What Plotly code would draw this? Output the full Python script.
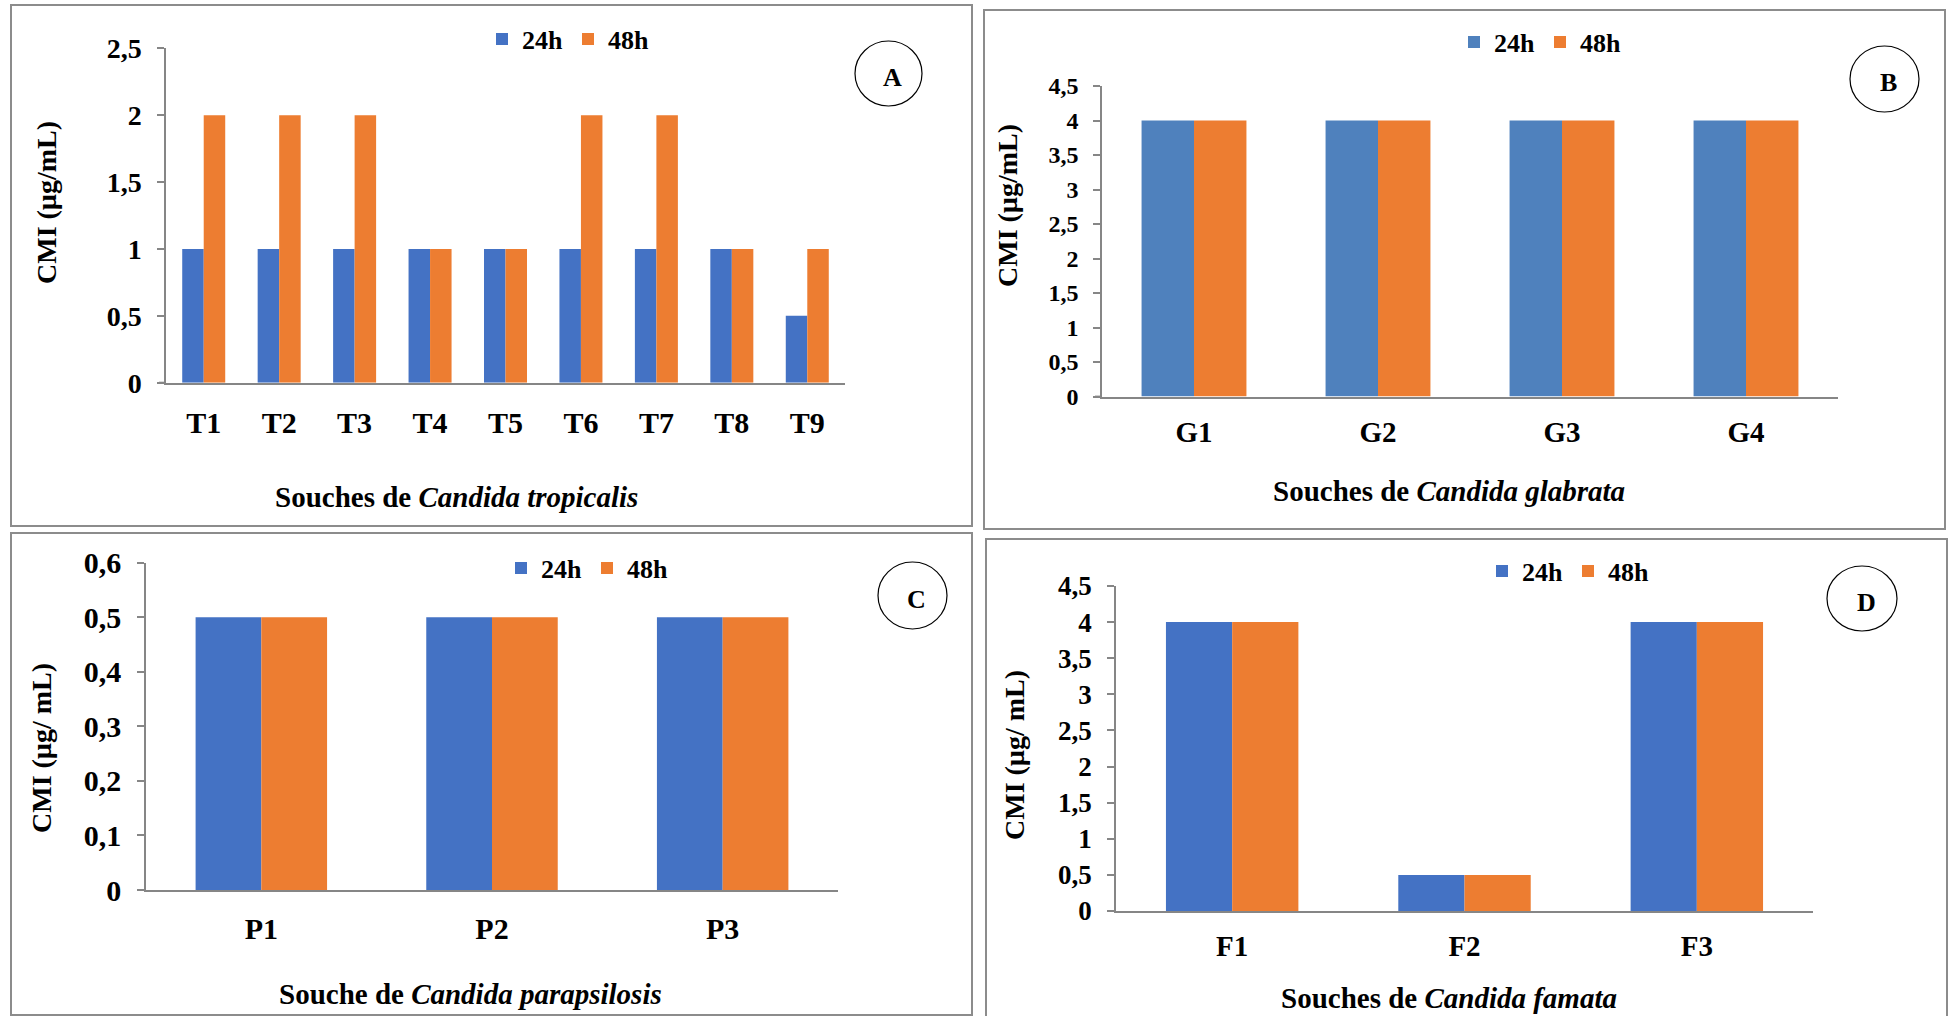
import plotly.graph_objects as go

W, H = 1948, 1016

# ---------------- data ----------------
series_names = ["24h", "48h"]

cat_A = ["T1", "T2", "T3", "T4", "T5", "T6", "T7", "T8", "T9"]
A_24 = [1, 1, 1, 1, 1, 1, 1, 1, 0.5]
A_48 = [2, 2, 2, 1, 1, 2, 2, 1, 1]

cat_B = ["G1", "G2", "G3", "G4"]
B_24 = [4, 4, 4, 4]
B_48 = [4, 4, 4, 4]

cat_C = ["P1", "P2", "P3"]
C_24 = [0.5, 0.5, 0.5]
C_48 = [0.5, 0.5, 0.5]

cat_D = ["F1", "F2", "F3"]
D_24 = [4, 0.5, 4]
D_48 = [4, 0.5, 4]

ytick_A = [0, 0.5, 1, 1.5, 2, 2.5]
ytick_A_text = ["0", "0,5", "1", "1,5", "2", "2,5"]
ytick_B = [0, 0.5, 1, 1.5, 2, 2.5, 3, 3.5, 4, 4.5]
ytick_B_text = ["0", "0,5", "1", "1,5", "2", "2,5", "3", "3,5", "4", "4,5"]
ytick_C = [0, 0.1, 0.2, 0.3, 0.4, 0.5, 0.6]
ytick_C_text = ["0", "0,1", "0,2", "0,3", "0,4", "0,5", "0,6"]
ytick_D = ytick_B
ytick_D_text = ytick_B_text

panel_letters = ["A", "B", "C", "D"]
x_titles = [
    "<b>Souches de <i>Candida tropicalis</i></b>",
    "<b>Souches de <i>Candida glabrata</i></b>",
    "<b>Souche de <i>Candida parapsilosis</i></b>",
    "<b>Souches de <i>Candida famata</i></b>",
]
y_titles = ["<b>CMI (µg/mL)</b>", "<b>CMI (µg/mL)</b>", "<b>CMI (µg/ mL)</b>", "<b>CMI (µg/ mL)</b>"]

# ---------------- styles ----------------
FONT = "Liberation Serif"
BLUE = "#4472C4"
BLUE_B = "#4F81BD"
ORANGE = "#ED7D31"
AXIS = "#868686"
BORDER = "#8C8C8C"


def px(x):
    return x / W


def py(y):
    return 1 - y / H


panels = [
    dict(cats=cat_A, s24=A_24, s48=A_48, blue=BLUE, box=(166, 845, 48.3, 382.7), ymax=2.5,
         tv=ytick_A, tt=ytick_A_text, yfs=28, xfs=30, xstand=12, leg=(482, 39),
         circ=(855, 922, 41, 106), yt=(47, 203), xt=(456, 497)),
    dict(cats=cat_B, s24=B_24, s48=B_48, blue=BLUE_B, box=(1102, 1838, 86, 396.6), ymax=4.5,
         tv=ytick_B, tt=ytick_B_text, yfs=24, xfs=29, xstand=9, leg=(1454, 42),
         circ=(1850, 1919, 46, 112), yt=(1008, 206), xt=(1449, 491)),
    dict(cats=cat_C, s24=C_24, s48=C_48, blue=BLUE, box=(146, 838, 562.7, 890), ymax=0.6,
         tv=ytick_C, tt=ytick_C_text, yfs=30, xfs=30, xstand=11, leg=(501, 568),
         circ=(878, 947, 562, 629), yt=(41, 748), xt=(470, 994)),
    dict(cats=cat_D, s24=D_24, s48=D_48, blue=BLUE, box=(1116, 1813, 586, 911), ymax=4.5,
         tv=ytick_D, tt=ytick_D_text, yfs=27, xfs=29, xstand=8, leg=(1482, 571),
         circ=(1827, 1897, 566, 631), yt=(1014, 755), xt=(1449, 998)),
]

fig = go.Figure()
layout = dict(
    width=W, height=H, margin=dict(l=0, r=0, t=0, b=0, autoexpand=False),
    template="none",
    paper_bgcolor="white", plot_bgcolor="white",
    barmode="group", bargap=0.43, bargroupgap=0,
    showlegend=True,
)
shapes = []
annotations = []

for i, p in enumerate(panels):
    n = "" if i == 0 else str(i + 1)
    xa, ya = "x" + n, "y" + n
    lg = "legend" + n
    fig.add_trace(go.Bar(x=p["cats"], y=p["s24"], name=series_names[0], marker_color=p["blue"],
                         marker_line_width=0, xaxis=xa, yaxis=ya, legend=lg))
    fig.add_trace(go.Bar(x=p["cats"], y=p["s48"], name=series_names[1], marker_color=ORANGE,
                         marker_line_width=0, xaxis=xa, yaxis=ya, legend=lg))
    l, r, t, b = p["box"]
    layout["xaxis" + n] = dict(
        domain=[px(l), px(r)], anchor=ya, showline=True, linecolor=AXIS, linewidth=2,
        ticks="", showgrid=False, zeroline=False, ticklabelstandoff=p["xstand"], automargin=False,
        tickfont=dict(family=FONT, size=p["xfs"], color="black", weight="bold"),
    )
    layout["yaxis" + n] = dict(
        domain=[py(b), py(t)], anchor=xa, range=[0, p["ymax"]], showline=True, linecolor=AXIS,
        linewidth=1.5, ticks="outside", ticklen=7, tickwidth=1.5, tickcolor=AXIS,
        tickvals=p["tv"], ticktext=p["tt"], showgrid=False, zeroline=False,
        ticklabelstandoff=10, automargin=False,
        tickfont=dict(family=FONT, size=p["yfs"], color="black", weight="bold"),
    )
    layout[lg] = dict(
        orientation="h", x=px(p["leg"][0]), y=py(p["leg"][1]), xanchor="left", yanchor="middle",
        bgcolor="rgba(0,0,0,0)", borderwidth=0,
        font=dict(family=FONT, size=26, color="black", weight="bold"),
    )
    # small extension of the category axis line to the left of the value axis
    shapes.append(dict(type="line", xref="paper", yref="paper", x0=px(l - 7), x1=px(l),
                       y0=py(b), y1=py(b), line=dict(color=AXIS, width=2)))
    cx0, cx1, cy0, cy1 = p["circ"]
    shapes.append(dict(type="circle", xref="paper", yref="paper", x0=px(cx0), x1=px(cx1),
                       y0=py(cy1), y1=py(cy0), line=dict(color="black", width=1.2)))
    annotations.append(dict(xref="paper", yref="paper", x=px((cx0 + cx1) / 2 + 4),
                            y=py((cy0 + cy1) / 2 + 4),
                            text="<b>" + panel_letters[i] + "</b>", showarrow=False,
                            xanchor="center", yanchor="middle",
                            font=dict(family=FONT, size=26, color="black")))
    annotations.append(dict(xref="paper", yref="paper", x=px(p["yt"][0]), y=py(p["yt"][1]),
                            text=y_titles[i], textangle=-90, showarrow=False,
                            xanchor="center", yanchor="middle",
                            font=dict(family=FONT, size=28, color="black")))
    annotations.append(dict(xref="paper", yref="paper", x=px(p["xt"][0]), y=py(p["xt"][1]),
                            text=x_titles[i], showarrow=False, xanchor="center", yanchor="middle",
                            font=dict(family=FONT, size=29, color="black")))

# panel frames
for (x0, y0, x1, y1) in [(11, 5, 972, 526), (984, 10, 1945, 529), (11, 533, 972, 1015), (986, 539, 1947, 1020)]:
    shapes.append(dict(type="rect", xref="paper", yref="paper", x0=px(x0), x1=px(x1),
                       y0=py(y1), y1=py(y0), line=dict(color=BORDER, width=2), layer="below"))

layout["shapes"] = shapes
layout["annotations"] = annotations
fig.update_layout(**layout)
fig.write_html("out.html")
